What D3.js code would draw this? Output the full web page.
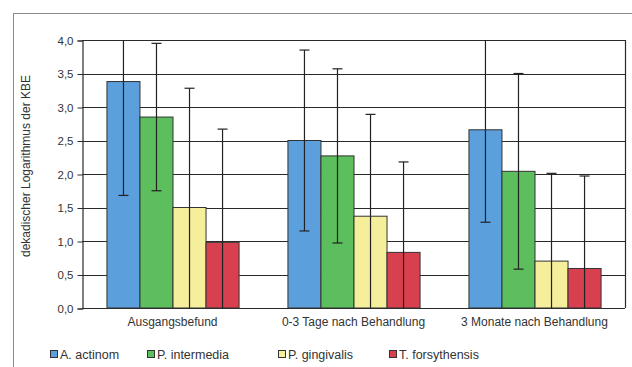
<!DOCTYPE html>
<html><head><meta charset="utf-8">
<script src="https://cdn.jsdelivr.net/npm/d3@7/dist/d3.min.js"></script>
<style>body{margin:0;background:#fff}svg{display:block}text{font-family:"Liberation Sans",Arial,sans-serif;fill:#333}</style>
</head><body><svg id="c" width="632" height="367"></svg>
<script>
const categories = ["Ausgangsbefund", "0-3 Tage nach Behandlung", "3 Monate nach Behandlung"];
const seriesNames = ["A. actinom", "P. intermedia", "P. gingivalis", "T. forsythensis"];
const colors = ["#5b9fdc", "#5cbe5c", "#f5ee9a", "#d8404f"];
// mean values per series (index = category)
const aActinom = [3.38, 2.50, 2.66];
const pIntermedia = [2.85, 2.27, 2.04];
const pGingivalis = [1.50, 1.37, 0.70];
const tForsythensis = [0.98, 0.83, 0.59];
// standard deviations per series
const sdActinom = [1.70, 1.35, 1.38];
const sdIntermedia = [1.10, 1.30, 1.46];
const sdGingivalis = [1.78, 1.52, 1.31];
const sdForsythensis = [1.69, 1.35, 1.38];
const yTicks = [0, 0.5, 1, 1.5, 2, 2.5, 3, 3.5, 4];
const yLabel = "dekadischer Logarithmus der KBE";

const values = [aActinom, pIntermedia, pGingivalis, tForsythensis];
const sds = [sdActinom, sdIntermedia, sdGingivalis, sdForsythensis];

const svg = d3.select("#c");
const L = 82, R = 625, T = 40, B = 308;

// outer frame
svg.append("rect").attr("x", 13.5).attr("y", 13.5).attr("width", 700).attr("height", 400)
  .attr("fill", "none").attr("stroke", "#8a8a8a").attr("stroke-width", 1);

const x0 = d3.scaleBand().domain(categories).range([L, R]).paddingInner(0.27).paddingOuter(0.135);
const x1 = d3.scaleBand().domain(seriesNames).range([0, x0.bandwidth()]);
const y = d3.scaleLinear().domain([0, 4]).range([B, T]);

// gridlines
svg.append("g").selectAll("line").data(yTicks).join("line")
  .attr("x1", L).attr("x2", R).attr("y1", d => Math.round(y(d)) + 0.5).attr("y2", d => Math.round(y(d)) + 0.5)
  .attr("stroke", "#2a2a2a").attr("stroke-width", 1.2);
// right border
svg.append("line").attr("x1", R + 0.5).attr("x2", R + 0.5).attr("y1", T).attr("y2", B)
  .attr("stroke", "#2a2a2a").attr("stroke-width", 1.2);

// y axis
const yAxis = d3.axisLeft(y).tickValues(yTicks).tickSize(5).tickPadding(4)
  .tickFormat(d => d3.format(".1f")(d).replace(".", ","));
const ga = svg.append("g").attr("transform", `translate(${L + 0.5},0.5)`).call(yAxis);
ga.select(".domain").attr("stroke", "#2a2a2a").attr("stroke-width", 1.2);
ga.selectAll(".tick line").attr("stroke", "#2a2a2a");
ga.selectAll("text").style("font-size", "11.5px").attr("fill", "#333");

// bars
const flat = [];
categories.forEach((c, ci) => seriesNames.forEach((s, si) => flat.push({c, s, si, v: values[si][ci], sd: sds[si][ci]})));
svg.append("g").selectAll("rect").data(flat).join("rect")
  .attr("x", d => x0(d.c) + x1(d.s) + 0.5)
  .attr("width", x1.bandwidth())
  .attr("y", d => y(d.v))
  .attr("height", d => y(0) - y(d.v))
  .attr("fill", d => colors[d.si]).attr("stroke", "#333").attr("stroke-width", 1);

// error bars (clipped to plot area)
svg.append("clipPath").attr("id", "pc").append("rect").attr("x", L).attr("y", T).attr("width", R - L).attr("height", B - T);
const eb = svg.append("g").attr("clip-path", "url(#pc)").selectAll("g").data(flat).join("g")
  .attr("stroke", "#222").attr("stroke-width", 1.2);
const cx = d => x0(d.c) + x1(d.s) + x1.bandwidth() / 2 + 0.5;
eb.append("line").attr("x1", cx).attr("x2", cx).attr("y1", d => y(d.v + d.sd)).attr("y2", d => y(d.v - d.sd));
eb.append("line").attr("x1", d => cx(d) - 5).attr("x2", d => cx(d) + 5).attr("y1", d => y(d.v + d.sd)).attr("y2", d => y(d.v + d.sd));
eb.append("line").attr("x1", d => cx(d) - 5).attr("x2", d => cx(d) + 5).attr("y1", d => y(d.v - d.sd)).attr("y2", d => y(d.v - d.sd));

// category labels
svg.append("g").selectAll("text").data(categories).join("text")
  .attr("x", d => x0(d) + x0.bandwidth() / 2).attr("y", 326)
  .attr("text-anchor", "middle").style("font-size", "12px").text(d => d);

// y label
svg.append("text").attr("transform", "translate(30,166) rotate(-90)")
  .attr("text-anchor", "middle").style("font-size", "12px").text(yLabel);

// legend
const legX = [50, 147, 278, 389];
const lg = svg.append("g").selectAll("g").data(seriesNames).join("g")
  .attr("transform", (d, i) => `translate(${legX[i]},350)`);
lg.append("rect").attr("x", 0.5).attr("y", 0.5).attr("width", 7).attr("height", 7)
  .attr("fill", (d, i) => colors[i]).attr("stroke", "#333");
lg.append("text").attr("x", 10).attr("y", 8.5).style("font-size", "12.5px").text(d => d);
</script></body></html>
